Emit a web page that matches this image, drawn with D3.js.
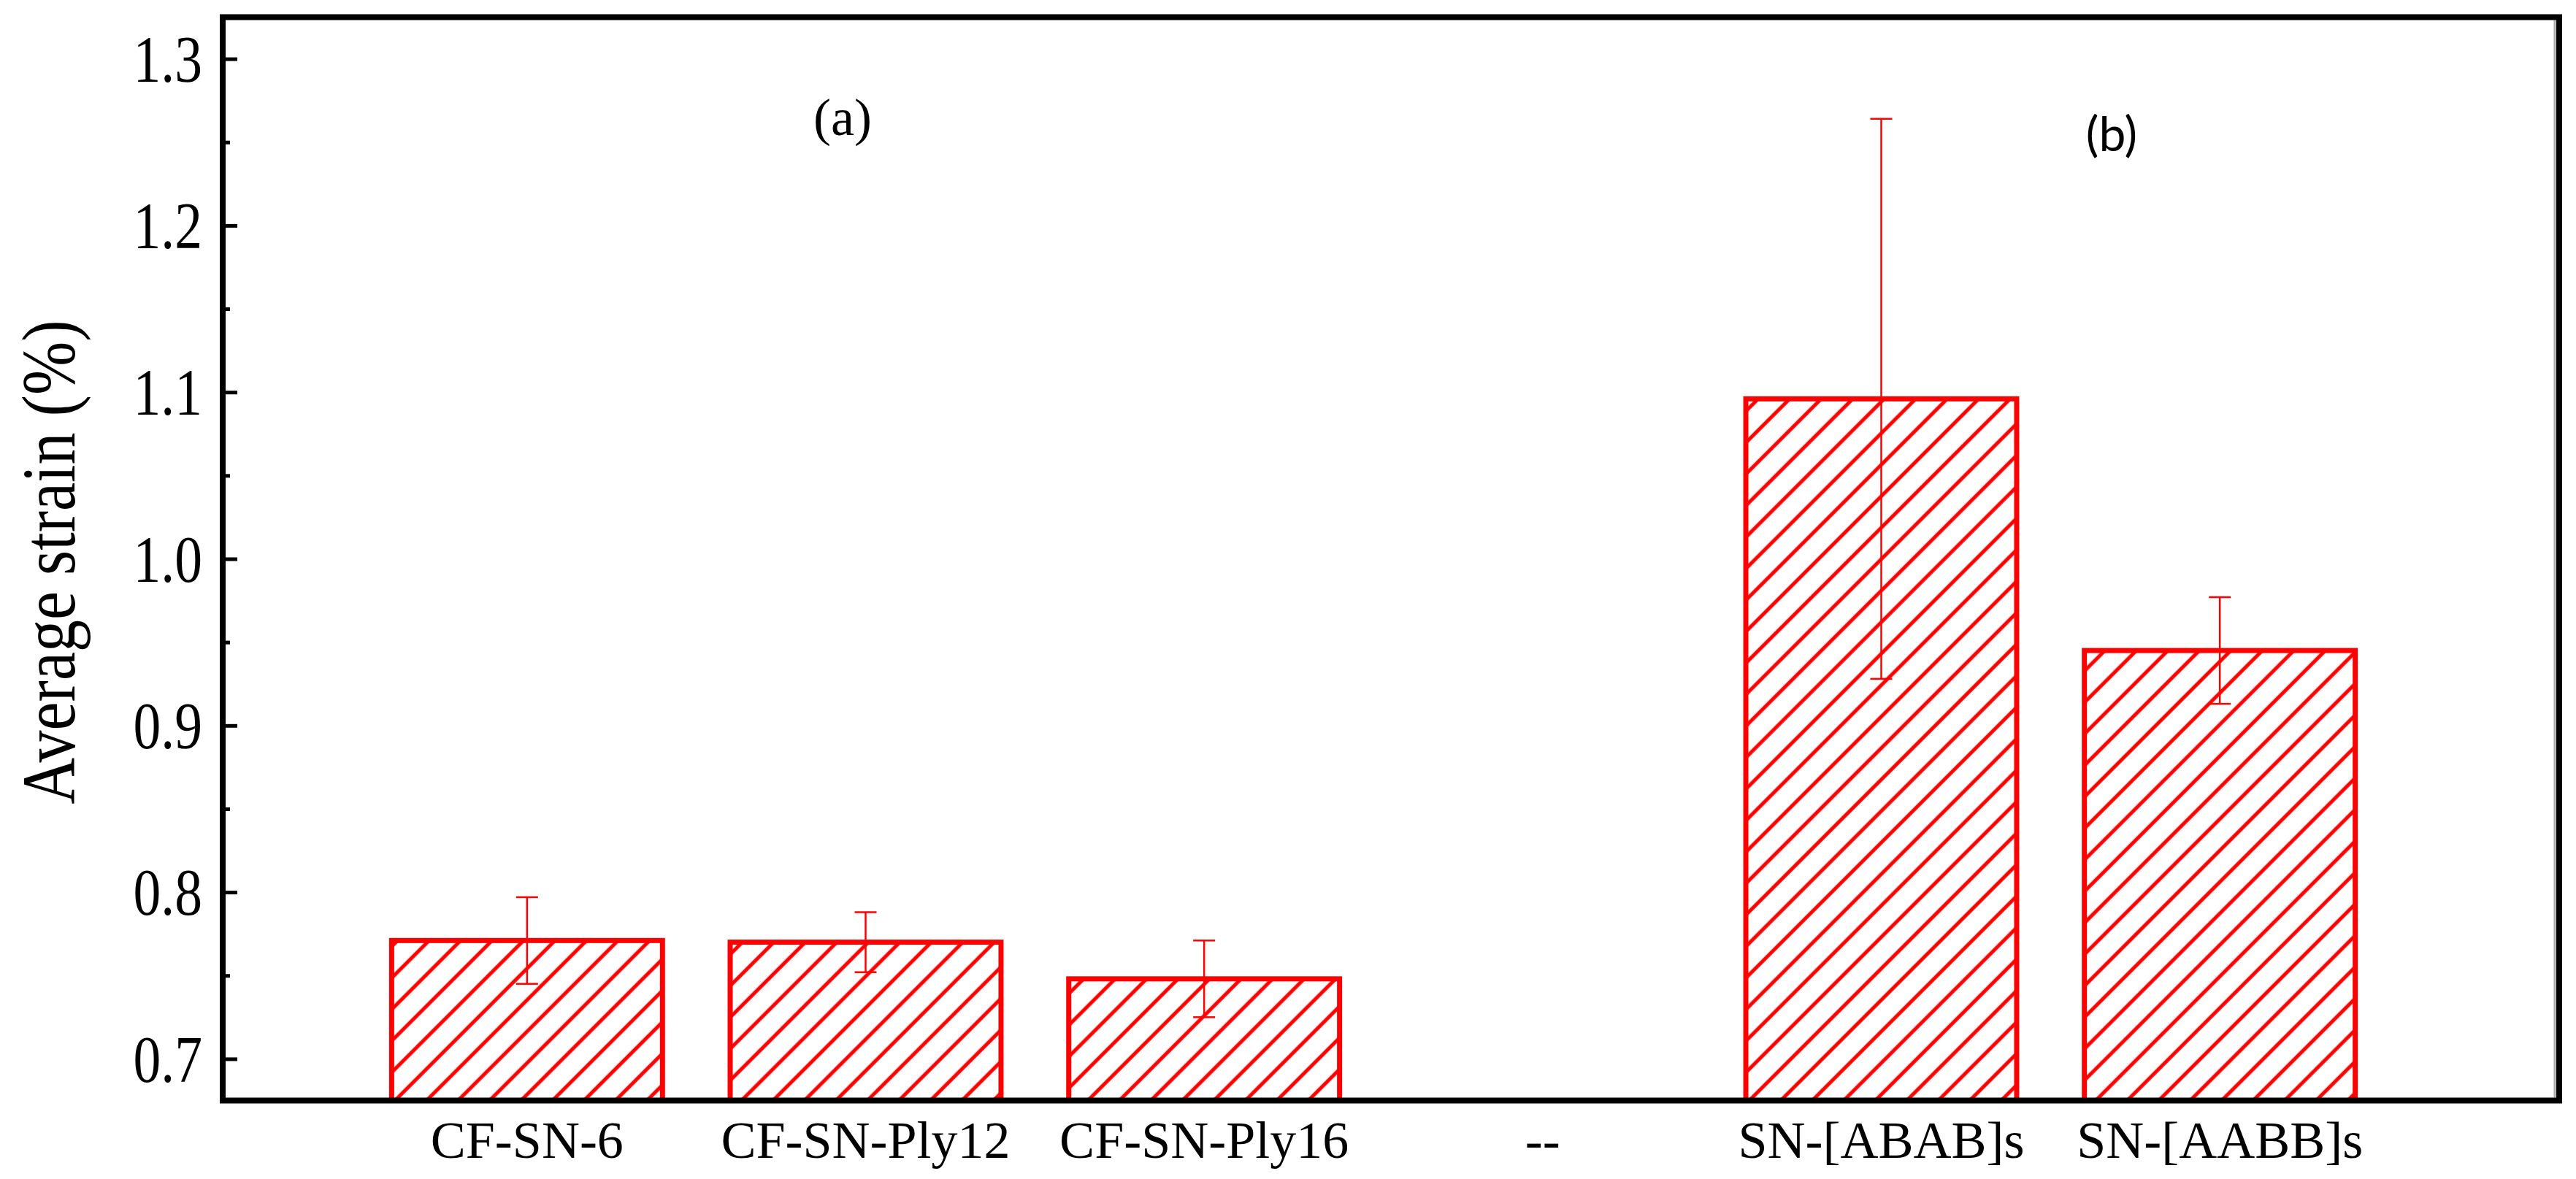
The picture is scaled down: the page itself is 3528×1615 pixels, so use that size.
<!DOCTYPE html>
<html>
<head>
<meta charset="utf-8">
<script src="https://cdn.jsdelivr.net/npm/d3@7"></script>
<style>
  html, body { margin: 0; padding: 0; background: #fff; }
  svg { display: block; }
</style>
</head>
<body>
<div id="chart"></div>
<script>
// data
var categories = ["CF-SN-6", "CF-SN-Ply12", "CF-SN-Ply16", "--", "SN-[ABAB]s", "SN-[AABB]s"];
var strainMean = [0.771, 0.770, 0.748, null, 1.096, 0.945];
var strainErr  = [0.026, 0.018, 0.023, null, 0.168, 0.032];
var yMajorTicks = [0.7, 0.8, 0.9, 1.0, 1.1, 1.2, 1.3];
var yMinorTicks = [0.75, 0.85, 0.95, 1.05, 1.15, 1.25];
var panelLabels = ["(a)", "(b)"];

var WIDTH = 3528, HEIGHT = 1615;
var MARGINS = { top: 23.5, right: 23, bottom: 108, left: 305 };
var RED = "#ff0000";

var svg = d3.select("#chart").append("svg")
	.attr("width", WIDTH).attr("height", HEIGHT);

var xScale = d3.scaleBand().domain(categories)
	.range([490, 3272]).paddingInner(0.2).paddingOuter(0.1);
var yScale = d3.scaleLinear().domain([0.675, 1.325])
	.range([HEIGHT - MARGINS.bottom + 0.5, MARGINS.top]);

// hatch pattern "/"
var defs = svg.append("defs");
defs.append("pattern").attr("id", "hatch")
	.attr("patternUnits", "userSpaceOnUse")
	.attr("width", 30.5).attr("height", 30.5)
	.attr("patternTransform", "rotate(45)")
	.append("line")
	.attr("x1", 15).attr("y1", -2).attr("x2", 15).attr("y2", 33)
	.attr("stroke", RED).attr("stroke-width", 5);

var plotBottom = yScale.range()[0];

// bars
var barData = categories.map(function(c, i) {
	return { cat: c, v: strainMean[i], e: strainErr[i] };
}).filter(function(d) { return d.v !== null; });

svg.append("g").attr("class", "bars").selectAll("rect")
	.data(barData).enter().append("rect")
	.attr("x", function(d) { return xScale(d.cat); })
	.attr("y", function(d) { return yScale(d.v); })
	.attr("width", xScale.bandwidth())
	.attr("height", function(d) { return plotBottom - yScale(d.v); })
	.attr("fill", "url(#hatch)")
	.attr("stroke", RED).attr("stroke-width", 7);

// error bars
var errG = svg.append("g").attr("class", "errors")
	.attr("stroke", RED).attr("stroke-width", 2.5);
barData.forEach(function(d) {
	var cx = xScale(d.cat) + xScale.bandwidth() / 2;
	errG.append("line").attr("x1", cx).attr("x2", cx)
		.attr("y1", yScale(d.v + d.e)).attr("y2", yScale(d.v - d.e));
	[d.v + d.e, d.v - d.e].forEach(function(v) {
		errG.append("line").attr("x1", cx - 15).attr("x2", cx + 15)
			.attr("y1", yScale(v)).attr("y2", yScale(v));
	});
});

// y axis (ticks point inward)
var yAxis = d3.axisLeft(yScale).tickValues(yMajorTicks)
	.tickSize(-20).tickPadding(28).tickFormat(d3.format(".1f"));
var gY = svg.append("g").attr("transform", "translate(" + MARGINS.left + ",0)")
	.call(yAxis);
gY.select(".domain").remove();
gY.selectAll(".tick line").attr("stroke", "#000").attr("stroke-width", 5);
gY.selectAll(".tick text")
	.attr("fill", "#000")
	.style("font-family", "'Liberation Serif', 'Times New Roman', serif")
	.style("font-size", "90px")
	.attr("dy", "0.34em")
	.each(function() {
		var len = this.getComputedTextLength();
		d3.select(this).attr("textLength", len * 0.84).attr("lengthAdjust", "spacingAndGlyphs");
	});

var yMinor = d3.axisLeft(yScale).tickValues(yMinorTicks).tickSize(-10).tickFormat("");
var gYm = svg.append("g").attr("transform", "translate(" + MARGINS.left + ",0)")
	.call(yMinor);
gYm.select(".domain").remove();
gYm.selectAll(".tick line").attr("stroke", "#000").attr("stroke-width", 5);

// x axis labels, no tick marks
var xAxis = d3.axisBottom(xScale).tickSize(0).tickPadding(0);
var gX = svg.append("g").attr("transform", "translate(0," + plotBottom + ")")
	.call(xAxis);
gX.select(".domain").remove();
gX.selectAll(".tick text")
	.attr("fill", "#000")
	.attr("y", 78).attr("dy", 0)
	.style("font-family", "'Liberation Serif', 'Times New Roman', serif")
	.style("font-size", "72px");

// frame with soft grey shadow on the inside right
svg.append("line")
	.attr("x1", WIDTH - MARGINS.right - 6).attr("x2", WIDTH - MARGINS.right - 6)
	.attr("y1", MARGINS.top + 4).attr("y2", plotBottom - 4)
	.attr("stroke", "#aaa").attr("stroke-width", 3);
svg.append("rect")
	.attr("x", MARGINS.left).attr("y", MARGINS.top)
	.attr("width", WIDTH - MARGINS.right - MARGINS.left)
	.attr("height", plotBottom - MARGINS.top)
	.attr("fill", "none").attr("stroke", "#000").attr("stroke-width", 8);

// y axis title
svg.append("text")
	.attr("transform", "translate(102," + 770 + ") rotate(-90)")
	.attr("text-anchor", "middle")
	.attr("textLength", 663).attr("lengthAdjust", "spacingAndGlyphs")
	.style("font-family", "'Liberation Serif', 'Times New Roman', serif")
	.style("font-size", "104px")
	.text("Average strain (%)");

// panel labels
svg.append("text")
	.attr("x", 1154).attr("y", 185)
	.attr("text-anchor", "middle")
	.style("font-family", "'Liberation Serif', 'Times New Roman', serif")
	.style("font-size", "72px")
	.text(panelLabels[0]);
svg.append("text")
	.attr("x", 2892).attr("y", 207)
	.attr("text-anchor", "middle")
	.style("font-family", "Lato, 'Open Sans', sans-serif")
	.style("font-size", "66px")
	.text(panelLabels[1]);
</script>
</body>
</html>
